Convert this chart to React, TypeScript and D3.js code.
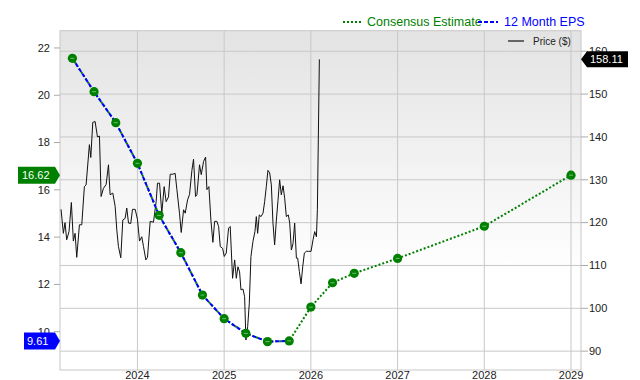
import React from "react";
import * as d3 from "d3";

const yearTicks = [2024, 2025, 2026, 2027, 2028, 2029];
const epsTicks = [10, 12, 14, 16, 18, 20, 22];
const priceTicks = [90, 100, 110, 120, 130, 140, 150, 160];

// 12 month EPS (quarter ends, decimal years)
const epsDates = [2023.25, 2023.5, 2023.75, 2024.0, 2024.25, 2024.5, 2024.75, 2025.0, 2025.25, 2025.5, 2025.75];
const epsValues = [21.56, 20.15, 18.84, 17.12, 14.92, 13.34, 11.55, 10.55, 9.93, 9.58, 9.61];

// Consensus estimates
const estDates = [2026.0, 2026.25, 2026.5, 2027.0, 2028.0, 2029.0];
const estValues = [11.04, 12.07, 12.47, 13.1, 14.46, 16.62];

// Price ($)
const priceDates = [
  2023.119, 2023.146, 2023.165, 2023.184, 2023.211, 2023.238, 2023.261, 2023.281, 2023.3, 2023.331,
  2023.358, 2023.388, 2023.408, 2023.446, 2023.462, 2023.485, 2023.512, 2023.539, 2023.562, 2023.581,
  2023.608, 2023.639, 2023.666, 2023.685, 2023.716, 2023.743, 2023.762, 2023.781, 2023.808, 2023.831,
  2023.858, 2023.877, 2023.897, 2023.923, 2023.943, 2023.974, 2024.0, 2024.024, 2024.05, 2024.07,
  2024.097, 2024.116, 2024.147, 2024.185, 2024.216, 2024.231, 2024.255, 2024.281, 2024.308, 2024.331,
  2024.358, 2024.378, 2024.408, 2024.435, 2024.455, 2024.485, 2024.505, 2024.532, 2024.551, 2024.578,
  2024.601, 2024.628, 2024.647, 2024.67, 2024.686, 2024.716, 2024.736, 2024.763, 2024.786, 2024.801,
  2024.824, 2024.847, 2024.87, 2024.89, 2024.916, 2024.936, 2024.955, 2024.982, 2025.001, 2025.024,
  2025.051, 2025.07, 2025.097, 2025.121, 2025.14, 2025.159, 2025.178, 2025.194, 2025.217, 2025.236,
  2025.251, 2025.271, 2025.29, 2025.309, 2025.332, 2025.355, 2025.371, 2025.386, 2025.405, 2025.425,
  2025.448, 2025.467, 2025.486, 2025.505, 2025.525, 2025.544, 2025.563, 2025.582, 2025.602, 2025.621,
  2025.64, 2025.659, 2025.679, 2025.698, 2025.717, 2025.74, 2025.756, 2025.775, 2025.794, 2025.813,
  2025.833, 2025.848, 2025.867, 2025.887, 2025.906, 2025.925, 2025.948, 2025.975, 2026.002, 2026.025,
  2026.044, 2026.064, 2026.075, 2026.098,
];
const priceValues = [
  123.1, 117.5, 120.0, 116.0, 117.9, 124.7, 115.7, 117.5, 111.9, 119.5,
  119.5, 128.4, 128.8, 138.2, 135.2, 143.4, 143.6, 140.0, 140.2, 126.1,
  128.0, 128.9, 133.5, 126.5, 126.9, 123.8, 118.3, 114.4, 111.8, 120.6,
  121.0, 123.4, 119.9, 119.8, 123.1, 123.1, 120.8, 115.7, 116.7, 114.4,
  111.3, 111.9, 120.3, 120.1, 124.9, 129.2, 129.2, 122.2, 128.4, 124.9,
  126.0, 131.3, 131.3, 131.5, 127.7, 122.2, 117.7, 123.0, 122.2, 125.3,
  126.6, 132.2, 134.8, 126.1, 126.5, 133.5, 131.2, 134.3, 135.3, 127.7,
  128.4, 120.6, 115.4, 120.3, 120.3, 119.1, 114.4, 114.0, 112.1, 112.9,
  118.7, 119.1, 107.0, 111.3, 107.0, 109.7, 108.5, 104.3, 104.5, 102.7,
  92.6, 95.7, 101.2, 112.1, 115.6, 117.9, 121.4, 117.5, 121.8, 121.4,
  122.2, 124.9, 128.4, 132.2, 131.6, 128.8, 119.9, 114.8, 120.6, 125.2,
  130.0, 126.5, 128.6, 125.7, 121.4, 121.8, 119.9, 113.6, 115.1, 119.9,
  111.7, 111.7, 108.6, 105.7, 109.7, 112.9, 113.3, 113.3, 113.3, 116.0,
  117.9, 116.7, 123.0, 158.11,
];

const W = 640;
const H = 380;
const L = 60;
const R = 581;
const T = 30.7;
const B = 370;
const GREEN = "#008000";
const BLUE = "#0000ff";
const FONT = "'Liberation Sans', Arial, Helvetica, sans-serif";

export default function App() {
  const x = d3.scaleLinear().domain([2023.107, 2029.115]).range([L, R]);
  const yE = d3.scaleLinear().domain([8.38, 22.73]).range([B, T]);
  const yP = d3.scaleLinear().domain([85.6, 164.8]).range([B, T]);

  const eps = epsDates.map((d, i) => [d, epsValues[i]] as [number, number]);
  const est = estDates.map((d, i) => [d, estValues[i]] as [number, number]);
  const consensus = eps.concat(est);
  const price = priceDates.map((d, i) => [d, priceValues[i]] as [number, number]);

  const lineE = d3.line<[number, number]>().x((d) => x(d[0])).y((d) => yE(d[1]));
  const lineP = d3.line<[number, number]>().x((d) => x(d[0])).y((d) => yP(d[1]));

  const lastEst = estValues[estValues.length - 1];
  const lastEps = epsValues[epsValues.length - 1];
  const lastPrice = priceValues[priceValues.length - 1];

  const gy = yE(lastEst);
  const by = yE(lastEps);
  const py = yP(lastPrice);

  return (
    <svg
      width={W}
      height={H}
      style={{ position: "absolute", left: 0, top: 0, fontFamily: FONT }}
    >
      <defs>
        <linearGradient id="bg" x1="0" y1="0" x2="0" y2="1">
          <stop offset="0" stopColor="#e3e3e3" />
          <stop offset="0.72" stopColor="#ffffff" />
          <stop offset="1" stopColor="#ffffff" />
        </linearGradient>
        <clipPath id="plotclip">
          <rect x={L} y={T} width={R - L} height={B - T} />
        </clipPath>
      </defs>
      <rect x={0} y={0} width={W} height={H} fill="#ffffff" />
      <rect x={L} y={T} width={R - L} height={B - T} fill="url(#bg)" />

      {/* grid */}
      {priceTicks.map((p) => (
        <line key={"hg" + p} x1={L} x2={R} y1={yP(p)} y2={yP(p)} stroke="#c8c8c8" strokeWidth={1} />
      ))}
      {yearTicks.map((yr) => (
        <line key={"vg" + yr} x1={x(yr)} x2={x(yr)} y1={T} y2={B} stroke="#c8c8c8" strokeWidth={1} />
      ))}
      <rect x={L} y={T} width={R - L} height={B - T} fill="none" stroke="#c8c8c8" strokeWidth={1} />

      {/* left axis */}
      {epsTicks.map((v) => (
        <g key={"le" + v}>
          <line x1={L - 6} x2={L} y1={yE(v)} y2={yE(v)} stroke="#aaaaaa" />
          <text x={L - 10} y={yE(v)} dy="0.35em" textAnchor="end" fontSize={11} fill="#222">
            {v}
          </text>
        </g>
      ))}
      {/* right axis */}
      {priceTicks.map((p) => (
        <g key={"rp" + p}>
          <line x1={R} x2={R + 7} y1={yP(p)} y2={yP(p)} stroke="#aaaaaa" />
          <text x={R + 8} y={yP(p)} dy="0.35em" fontSize={11} fill="#222">
            {p}
          </text>
        </g>
      ))}
      {/* bottom axis */}
      {yearTicks.map((yr) => (
        <text key={"bx" + yr} x={x(yr)} y={379} textAnchor="middle" fontSize={11} fill="#222">
          {yr}
        </text>
      ))}

      <g clipPath="url(#plotclip)">
        {/* price */}
        <path d={lineP(price) || ""} fill="none" stroke="#111" strokeWidth={1} />
        {/* consensus dotted */}
        <path d={lineE(consensus) || ""} fill="none" stroke={GREEN} strokeWidth={2} strokeDasharray="2,2" />
        {/* 12 month eps dashed */}
        <path d={lineE(eps) || ""} fill="none" stroke={BLUE} strokeWidth={2} strokeDasharray="4,2" />
        {consensus.map((d, i) => (
          <g key={"pt" + i}>
            <circle cx={x(d[0])} cy={yE(d[1])} r={4.6} fill={GREEN} />
            <line
              x1={x(d[0]) - 2}
              x2={x(d[0]) + 2}
              y1={yE(d[1])}
              y2={yE(d[1])}
              stroke="#6cbf6c"
              strokeWidth={1}
            />
          </g>
        ))}
      </g>

      {/* price legend inside plot */}
      <line x1={508} x2={524} y1={41} y2={41} stroke="#666" strokeWidth={2} />
      <text x={533} y={41} dy="0.35em" fontSize={10} fill="#222">
        Price ($)
      </text>

      {/* top legend */}
      <line x1={343} x2={362} y1={22} y2={22} stroke={GREEN} strokeWidth={2} strokeDasharray="2,2" />
      <text x={367} y={22} dy="0.35em" fontSize={12.5} fill={GREEN}>
        Consensus Estimate
      </text>
      <line x1={478} x2={498} y1={22} y2={22} stroke={BLUE} strokeWidth={2} strokeDasharray="4,2" />
      <text x={504} y={22} dy="0.35em" fontSize={12.5} fill={BLUE}>
        12 Month EPS
      </text>

      {/* value flags */}
      <polygon
        points={`18,${gy - 8.5} 55,${gy - 8.5} 60,${gy} 55,${gy + 8.5} 18,${gy + 8.5}`}
        fill={GREEN}
      />
      <text x={22} y={gy} dy="0.35em" fontSize={11} fill="#fff">
        {lastEst.toFixed(2)}
      </text>
      <polygon
        points={`24,${by - 8.5} 55,${by - 8.5} 60,${by} 55,${by + 8.5} 24,${by + 8.5}`}
        fill={BLUE}
      />
      <text x={27} y={by} dy="0.35em" fontSize={11} fill="#fff">
        {lastEps.toFixed(2)}
      </text>
      <polygon
        points={`${R},${py} ${R + 6},${py - 8} 628,${py - 8} 628,${py + 8} ${R + 6},${py + 8}`}
        fill="#000"
      />
      <text x={R + 9} y={py} dy="0.35em" fontSize={11} fill="#fff">
        {lastPrice.toFixed(2)}
      </text>
    </svg>
  );
}
